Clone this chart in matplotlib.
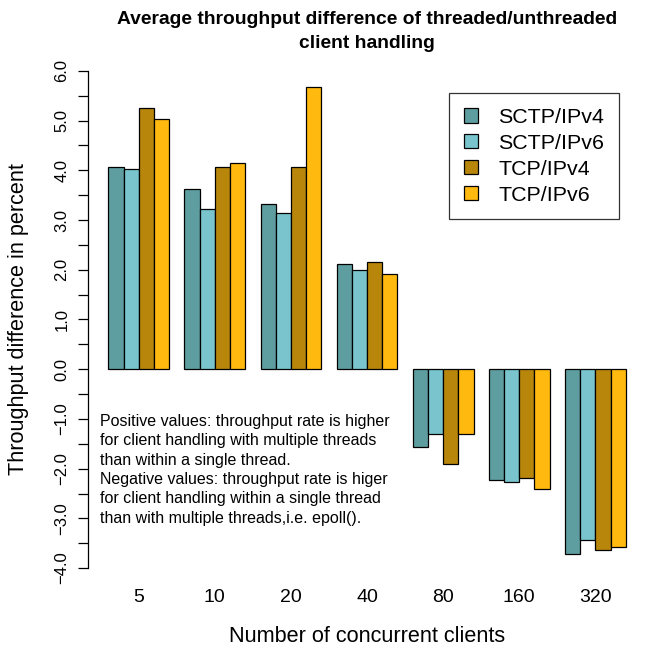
import matplotlib
matplotlib.use("Agg")
import matplotlib.pyplot as plt
import numpy as np

plt.rcParams['font.family'] = ['Liberation Sans', 'DejaVu Sans']

clients = ["5", "10", "20", "40", "80", "160", "320"]
series = ["SCTP/IPv4", "SCTP/IPv6", "TCP/IPv4", "TCP/IPv6"]
sctp_v4 = [4.07, 3.63, 3.32, 2.11, -1.56, -2.22, -3.71]
sctp_v6 = [4.03, 3.23, 3.15, 1.99, -1.31, -2.26, -3.43]
tcp_v4 = [5.26, 4.07, 4.07, 2.16, -1.90, -2.18, -3.63]
tcp_v6 = [5.03, 4.14, 5.67, 1.92, -1.30, -2.40, -3.58]
colors = ["#5F9EA0", "#7AC5CD", "#B8860B", "#FFB90F"]
yticks = [-4.0, -3.0, -2.0, -1.0, 0.0, 1.0, 2.0, 3.0, 4.0, 5.0, 6.0]

data = [sctp_v4, sctp_v6, tcp_v4, tcp_v6]

W, H = 649, 646
fig = plt.figure(figsize=(W/100, H/100), dpi=100)
L, R, T, B = 87.6, 646.5, 51, 588
ax = fig.add_axes([L/W, 1-B/H, (R-L)/W, (B-T)/H])

n = len(clients)
group_starts = 1 + 5*np.arange(n)  # R barplot beside layout: space 1 before each group
for i, (vals, c, lab) in enumerate(zip(data, colors, series)):
    ax.bar(group_starts + i, vals, width=1.0, align='edge', color=c,
           edgecolor='black', linewidth=0.9, label=lab)

ax.set_xlim(1 - 0.04*34, 35 + 0.04*34)
ax.set_ylim(-4.4, 6.4)

for s in ['top', 'right', 'bottom']:
    ax.spines[s].set_visible(False)
ax.spines['left'].set_bounds(-4, 6)
ax.spines['left'].set_linewidth(0.9)

allticks = np.arange(-4, 6.01, 0.5)
ax.set_yticks(allticks)
ax.set_yticklabels([("%.1f" % t).replace("-", "\u2212") if t in yticks else "" for t in allticks],
                   rotation=90, va='center', fontsize=12)
ax.tick_params(axis='y', length=7, width=0.9, pad=6)

ax.set_xticks(group_starts + 2)
ax.set_xticklabels(clients, fontsize=14)
ax.tick_params(axis='x', length=0, pad=1)

fig.text(367/W, 1-642.5/H, "Number of concurrent clients", ha='center', va='baseline', fontsize=15.6)
fig.text(19/W, 1-(T+B)/2/H, "Throughput difference in percent", ha='center', va='center',
         rotation=90, fontsize=15.6)

fig.text(367/W, 1-19.5/H, "Average throughput difference of threaded/unthreaded",
         ha='center', va='center', fontsize=13.9, fontweight='bold')
fig.text(367/W, 1-43.5/H, "client handling",
         ha='center', va='center', fontsize=13.9, fontweight='bold')

leg = ax.legend(loc='upper left', bbox_to_anchor=((449-L)/(R-L), (B-93)/(B-T)),
                fontsize=15.4, frameon=True, fancybox=False, edgecolor='black',
                handlelength=0.65, handleheight=0.65, handletextpad=0.95, borderpad=0.7,
                labelspacing=0.32, borderaxespad=0)
leg.get_frame().set_linewidth(0.9)

fig.text(100/W, 1-414/H, "Positive values: throughput rate is higher\n"
         "for client handling with multiple threads\n"
         "than within a single thread.\n"
         "Negative values: throughput rate is higer\n"
         "for client handling within a single thread\n"
         "than with multiple threads,i.e. epoll().",
         ha='left', va='top', fontsize=11.5, linespacing=1.36)

fig.savefig("out.png", dpi=100)
